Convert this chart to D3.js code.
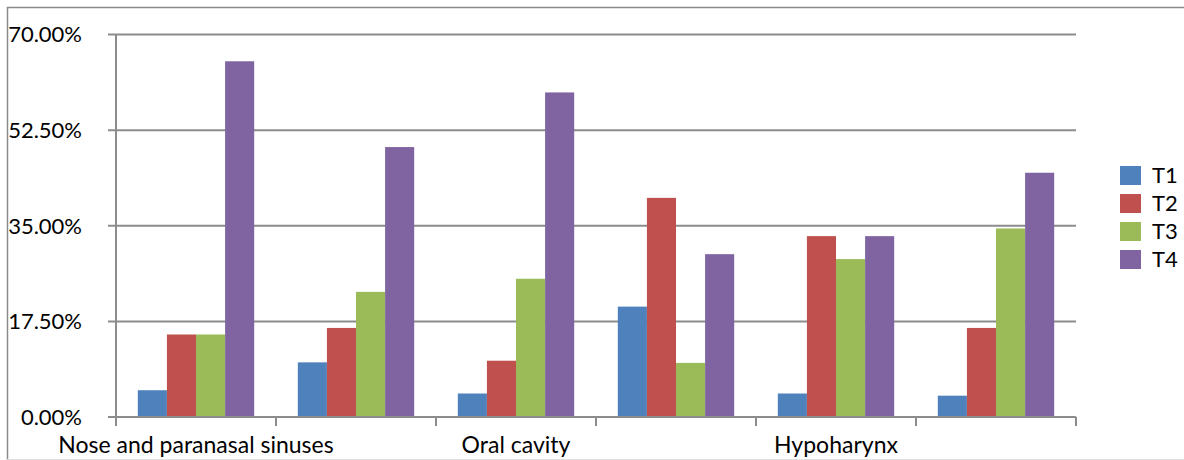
<!DOCTYPE html>
<html>
<head>
<meta charset="utf-8">
<script src="https://cdn.jsdelivr.net/npm/d3@7"></script>
<style>
  html, body { margin: 0; padding: 0; background: #fff; }
  svg { display: block; font-family: Lato, "Open Sans", sans-serif; }
</style>
</head>
<body>
<svg id="chart" width="1184" height="460"></svg>
<script>
// ---- data ----
const categories = ["Nose and paranasal sinuses", "cat2", "Oral cavity", "cat4", "Hypoharynx", "cat6"];
const categoryLabels = ["Nose and paranasal sinuses", "", "Oral cavity", "", "Hypoharynx", ""];
const seriesNames = ["T1", "T2", "T3", "T4"];
const T1 = [4.9, 10.0, 4.3, 20.2, 4.3, 3.9];
const T2 = [15.1, 16.3, 10.3, 40.1, 33.1, 16.3];
const T3 = [15.1, 22.9, 25.3, 9.9, 28.9, 34.5];
const T4 = [65.1, 49.4, 59.4, 29.8, 33.1, 44.7];
const seriesValues = [T1, T2, T3, T4];
const yTicks = [0, 17.5, 35, 52.5, 70];
const colors = ["#4F81BD", "#C0504D", "#9BBB59", "#8064A2"];

// ---- layout ----
const svg = d3.select("#chart");
const plot = { left: 116, right: 1076, top: 34.5, bottom: 417 };

// outer frame
svg.append("path").attr("d", "M7.5,460 V7.5 H1184")
  .attr("fill", "none").attr("stroke", "#8a8a8a").attr("stroke-width", 1.5);
svg.append("line").attr("x1", 7).attr("x2", 1184).attr("y1", 459.5).attr("y2", 459.5)
  .attr("stroke", "#e0e0e0").attr("stroke-width", 1);

const x = d3.scaleBand().domain(categories).range([plot.left, plot.right]).paddingInner(0).paddingOuter(0);
const y = d3.scaleLinear().domain([0, 70]).range([plot.bottom, plot.top]);
// Excel gap width 150%: bar width = band / 5.5
const barW = x.bandwidth() / 5.5;
const xs = d3.scaleBand().domain(seriesNames).range([0, barW * 4]);

// gridlines
const gridColor = "#8c8c8c";
svg.append("g").selectAll("line").data(yTicks).join("line")
  .attr("x1", plot.left - 8).attr("x2", plot.right)
  .attr("y1", d => y(d)).attr("y2", d => y(d))
  .attr("stroke", gridColor).attr("stroke-width", 2);

// y labels
svg.append("g").selectAll("text").data(yTicks).join("text")
  .attr("x", 82).attr("y", d => y(d)).attr("dy", "0.36em")
  .attr("text-anchor", "end").attr("font-size", 22).attr("fill", "#000")
  .text(d => d.toFixed(2) + "%");

// bars
const groups = svg.append("g").selectAll("g").data(categories).join("g")
  .attr("transform", d => `translate(${x(d) + barW * 0.75},0)`);
groups.selectAll("rect").data((c, ci) => seriesNames.map((s, si) => ({ s, v: seriesValues[si][ci], si })))
  .join("rect")
  .attr("x", d => xs(d.s)).attr("width", xs.bandwidth())
  .attr("y", d => y(d.v)).attr("height", d => y(0) - y(d.v))
  .attr("fill", d => colors[d.si]);

// y axis line
svg.append("line").attr("x1", plot.left).attr("x2", plot.left)
  .attr("y1", plot.top).attr("y2", plot.bottom)
  .attr("stroke", gridColor).attr("stroke-width", 2);

// x axis line + category tick marks
svg.append("line").attr("x1", plot.left - 8).attr("x2", plot.right)
  .attr("y1", plot.bottom).attr("y2", plot.bottom)
  .attr("stroke", gridColor).attr("stroke-width", 2);
const boundaries = categories.map(c => x(c)).concat([plot.right]);
svg.append("g").selectAll("line").data(boundaries).join("line")
  .attr("x1", d => d).attr("x2", d => d)
  .attr("y1", plot.bottom).attr("y2", plot.bottom + 9)
  .attr("stroke", gridColor).attr("stroke-width", 2);

// x labels
svg.append("g").selectAll("text").data(categories).join("text")
  .attr("x", d => x(d) + x.bandwidth() / 2).attr("y", 453)
  .attr("text-anchor", "middle").attr("font-size", 23).attr("fill", "#000")
  .text((d, i) => categoryLabels[i]);

// legend
const legend = svg.append("g").selectAll("g").data(seriesNames).join("g")
  .attr("transform", (d, i) => `translate(1120,${166 + i * 28})`);
legend.append("rect").attr("width", 21).attr("height", 19).attr("fill", (d, i) => colors[i]);
legend.append("text").attr("x", 32).attr("y", 9.5).attr("dy", "0.36em")
  .attr("font-size", 22).attr("fill", "#000").text(d => d);
</script>
</body>
</html>
